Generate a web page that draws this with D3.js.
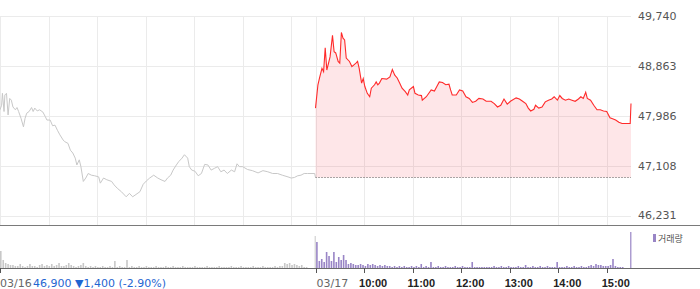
<!DOCTYPE html>
<html><head><meta charset="utf-8">
<script src="https://cdn.jsdelivr.net/npm/d3@7/dist/d3.min.js"></script>
<style>body{margin:0;background:#fff}svg{display:block}</style>
</head><body><svg id="c" width="700" height="289"></svg>
<script>
// ---------- data ----------
const yTicks = [46231, 47108, 47986, 48863, 49740];
const prevClose = 46900;
const dayLabels = ["03/16", "03/17"];
const hourLabels = ["10:00", "11:00", "12:00", "13:00", "14:00", "15:00"];
const changeText = "46,900 \u25BC1,400 (-2.90%)";
const volLegend = "거래량";

const prevTimes = ["09:00","09:02","09:03","09:05","09:06","09:08","09:10","09:12","09:14","09:16","09:19","09:21","09:23","09:26","09:29","09:31","09:33","09:36","09:39","09:41","09:43","09:46","09:49","09:53","09:56","09:58","10:02","10:05","10:08","10:11","10:14","10:18","10:20","10:24","10:27","10:30","10:33","10:35","10:38","10:40","10:43","10:46","10:49","10:53","10:57","11:02","11:04","11:08","11:12","11:18","11:21","11:25","11:30","11:36","11:40","11:44","11:48","11:53","11:57","12:01","12:05","12:10","12:15","12:19","12:24","12:27","12:31","12:34","12:38","12:41","12:45","12:48","12:52","12:54","12:57","13:01","13:05","13:09","13:13","13:17","13:21","13:25","13:29","13:33","13:37","13:41","13:46","13:50","13:53","13:56","14:00","14:06","14:12","14:19","14:25","14:31","14:37","14:43","14:49","14:56","15:00","15:04","15:08","15:12","15:16","15:20","15:29","15:30"];
const prevPrices = [48090,48170,48380,48060,48350,48380,48000,48290,48260,48140,48090,48130,48060,47940,47790,47940,48030,48060,48130,48060,48120,48070,48090,48050,47970,47910,47910,47810,47820,47730,47650,47560,47530,47500,47380,47330,47240,47120,47210,47090,46830,46890,46970,46940,46930,46910,46800,46890,46860,46830,46770,46710,46650,46560,46620,46560,46600,46650,46780,46840,46890,46940,46890,46860,46830,46890,46940,47030,47120,47180,47240,47300,47240,47090,47030,47010,46930,46970,47130,47120,47030,47060,47090,47000,47030,46970,47030,47000,47140,47090,47090,47040,47020,46980,47020,47000,46970,46970,46940,46910,46890,46900,46930,46940,46970,46970,46970,46900];

const curTimes = ["09:00","09:03","09:05","09:08","09:10","09:12","09:14","09:18","09:21","09:23","09:25","09:28","09:30","09:32","09:34","09:36","09:38","09:42","09:45","09:50","09:52","09:54","09:57","09:59","10:01","10:04","10:07","10:09","10:13","10:15","10:17","10:19","10:22","10:28","10:32","10:35","10:38","10:41","10:44","10:47","10:51","10:54","10:56","11:01","11:03","11:07","11:11","11:12","11:17","11:23","11:27","11:30","11:33","11:37","11:41","11:45","11:47","11:49","11:54","11:58","12:02","12:06","12:10","12:14","12:18","12:22","12:27","12:31","12:37","12:41","12:45","12:49","12:53","12:57","13:01","13:08","13:12","13:16","13:20","13:23","13:26","13:30","13:32","13:36","13:40","13:44","13:48","13:52","13:55","13:59","14:02","14:05","14:09","14:13","14:17","14:21","14:25","14:28","14:31","14:34","14:36","14:40","14:44","14:48","14:52","14:56","15:00","15:04","15:08","15:11","15:15","15:19","15:29","15:30"];
const curPrices = [48120,48530,48650,48820,48760,49180,48790,49020,49400,49110,49090,48940,48910,49450,49350,49320,49000,48940,48850,48910,48940,48820,48560,48640,48500,48380,48320,48470,48530,48580,48530,48560,48640,48630,48670,48800,48700,48650,48560,48470,48410,48350,48440,48500,48380,48350,48340,48260,48320,48440,48420,48500,48580,48570,48530,48540,48440,48350,48350,48440,48420,48320,48290,48220,48240,48290,48280,48240,48240,48200,48140,48170,48280,48190,48240,48300,48280,48240,48200,48120,48070,48100,48170,48120,48140,48230,48260,48280,48320,48260,48340,48290,48260,48280,48260,48240,48280,48320,48290,48400,48290,48260,48170,48090,48090,48070,48060,47950,47930,47910,47870,47850,47850,48200];

// volume, thousand shares per 3-minute bucket from 09:00, plus closing-auction volume
const prevVolume = [17,8,5,4,3,3,2,2,4,2, 1,2,4,2,2,1,3,4,2,3, 2,4,2,3,5,2,2,3,5,3, 2,1,2,3,5,2,1,2,1,2, 1,1,2,1,1,2,1,7,1,2, 1,1,8,1,2,1,1,2,1,1, 2,1,1,1,2,1,1,1,2,1, 1,2,1,1,1,2,1,1,1,1, 2,1,1,1,1,2,1,1,1,1, 2,1,1,1,1,2,1,1,1,2, 1,1,1,1,2,1,1,1,2,1, 1,1,1,2,1,2,2,5,4,5, 3,4,3,2,3,1,1,0,0,0];
const prevCloseVolume = 32;
const curVolume = [26,7,9,6,16,12,7,16,6,11, 8,13,8,4,5,4,3,3,4,3, 2,4,3,4,3,2,3,2,3,2, 2,1,2,1,2,1,2,1,1,2, 1,2,1,4,1,2,1,6,1,1, 2,1,1,2,1,1,1,2,1,1, 2,1,1,1,6,1,1,1,1,1, 1,1,1,2,1,1,2,1,1,2, 1,1,1,2,1,1,3,1,1,2, 1,1,2,1,1,2,1,1,1,6, 1,1,1,2,1,1,2,1,1,2, 1,1,2,3,2,4,3,3,2,2, 2,3,9,2,1,1,1,0,0,0];
const curCloseVolume = 36;

// ---------- chart ----------
const svg = d3.select("#c");
const x = d3.scaleLinear().domain([0, 780]).range([0, 631]);
const y = d3.scaleLinear().domain([46231, 49740]).range([215.5, 16]);
const yv = d3.scaleLinear().domain([0, 36]).range([268, 232]);
const toMin = (t, day) => { const [h, m] = t.split(":").map(Number); return day * 390 + (h - 9) * 60 + m; };
const crisp = v => Math.round(v) + 0.5;

const prev = prevTimes.map((t, i) => ({ m: toMin(t, 0), p: prevPrices[i] }));
const cur = curTimes.map((t, i) => ({ m: toMin(t, 1), p: curPrices[i] }));

// grid
const vMins = [0, 60, 120, 180, 240, 300, 360, 390, 450, 510, 570, 630, 690, 750];
svg.append("g").selectAll("line").data(vMins).join("line")
  .attr("x1", d => crisp(x(d))).attr("x2", d => crisp(x(d)))
  .attr("y1", crisp(y(49740))).attr("y2", 225)
  .attr("stroke", "#ebebeb");
svg.append("g").selectAll("line").data(yTicks).join("line")
  .attr("x1", 0).attr("x2", x(780))
  .attr("y1", d => crisp(y(d))).attr("y2", d => crisp(y(d)))
  .attr("stroke", "#ebebeb");

// area
svg.append("path").datum(cur)
  .attr("d", d3.area().x(d => x(d.m)).y0(y(prevClose)).y1(d => y(d.p)))
  .attr("fill", "rgba(245,60,80,0.13)");

// prev close dotted
svg.append("line")
  .attr("x1", x(390)).attr("x2", x(780))
  .attr("y1", crisp(y(prevClose))).attr("y2", crisp(y(prevClose)))
  .attr("stroke", "#555").attr("stroke-dasharray", "1,2");

// lines
svg.append("path").datum(prev)
  .attr("d", d3.line().x(d => x(d.m)).y(d => y(d.p)))
  .attr("fill", "none").attr("stroke", "#c8c8c8").attr("stroke-width", 1);
svg.append("path").datum(cur)
  .attr("d", d3.line().x(d => x(d.m)).y(d => y(d.p)))
  .attr("fill", "none").attr("stroke", "#ff2a2a").attr("stroke-width", 1.1);

// y labels
svg.append("g").selectAll("text").data(yTicks).join("text")
  .attr("x", 638).attr("y", d => y(d)).attr("dy", "0.36em")
  .attr("font-family", "DejaVu Sans").attr("font-size", 11).attr("fill", "#555")
  .text(d => d3.format(",")(d));

// panel separators
svg.append("line").attr("x1", 0).attr("x2", 700).attr("y1", 225.5).attr("y2", 225.5).attr("stroke", "#7a7a7a");
svg.append("line").attr("x1", 0).attr("x2", 700).attr("y1", 268.5).attr("y2", 268.5).attr("stroke", "#6a6a6a");

// volume bars
const vb = svg.append("g");
vb.selectAll(".pv").data(prevVolume).join("rect").attr("class", "pv")
  .attr("x", (d, i) => x(i * 3)).attr("width", 1.6)
  .attr("y", d => yv(d)).attr("height", d => yv(0) - yv(d)).attr("fill", "#c8c8c8");
vb.append("rect").attr("x", x(389)).attr("width", 1)
  .attr("y", yv(prevCloseVolume)).attr("height", yv(0) - yv(prevCloseVolume)).attr("fill", "#c8c8c8");
vb.selectAll(".cv").data(curVolume).join("rect").attr("class", "cv")
  .attr("x", (d, i) => x(390 + i * 3) + 0.6).attr("width", 1.6)
  .attr("y", d => yv(d)).attr("height", d => yv(0) - yv(d)).attr("fill", "#9985c6");
vb.append("rect").attr("x", x(779)).attr("width", 1.2)
  .attr("y", yv(curCloseVolume)).attr("height", yv(0) - yv(curCloseVolume)).attr("fill", "#9985c6");

// legend
svg.append("rect").attr("x", 653).attr("y", 234).attr("width", 3).attr("height", 8).attr("fill", "#9985c6");
svg.append("text").attr("x", 658).attr("y", 242).attr("font-family", "Noto Sans CJK KR")
  .attr("font-size", 9).attr("fill", "#555").text(volLegend);

// bottom ticks
const tickMins = [0, 390, 450, 510, 570, 630, 690, 750];
svg.append("g").selectAll("line").data(tickMins).join("line")
  .attr("x1", d => crisp(x(d))).attr("x2", d => crisp(x(d)))
  .attr("y1", 268).attr("y2", 273).attr("stroke", "#555");

// bottom labels
svg.append("text").attr("x", 0).attr("y", 287).attr("font-family", "DejaVu Sans")
  .attr("font-size", 11).attr("fill", "#666").text(dayLabels[0]);
svg.append("text").attr("x", 33).attr("y", 287).attr("font-family", "DejaVu Sans")
  .attr("font-size", 11).attr("fill", "#1f66d1").text(changeText);
svg.append("text").attr("x", x(390) + 1).attr("y", 287).attr("font-family", "DejaVu Sans")
  .attr("font-size", 11).attr("fill", "#666").text(dayLabels[1]);
svg.append("g").selectAll("text").data(hourLabels).join("text")
  .attr("x", (d, i) => x(450 + i * 60) - 5).attr("y", 287)
  .attr("font-family", "Liberation Sans").attr("font-weight", "bold")
  .attr("font-size", 11).attr("fill", "#222").text(d => d);
</script></body></html>
